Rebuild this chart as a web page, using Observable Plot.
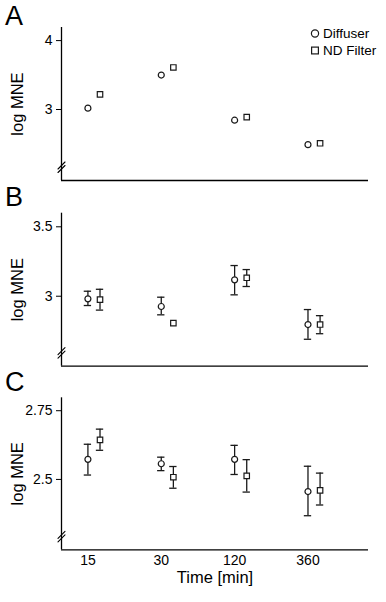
<!DOCTYPE html>
<html><head><meta charset="utf-8">
<script src="https://cdn.jsdelivr.net/npm/d3@7"></script>
<script src="https://cdn.jsdelivr.net/npm/@observablehq/plot@0.6"></script>
<style>
body{margin:0;background:#fff;}
#wrap{position:relative;width:386px;height:602px;overflow:hidden;font-family:"Liberation Sans",Arial,Helvetica,sans-serif;color:#000;}
.panel{position:absolute;left:0;}
.letter{position:absolute;font-size:27px;line-height:27px;}
#legend{position:absolute;left:310px;top:25px;font-size:13.5px;line-height:17px;}
#legend div{display:flex;align-items:center;white-space:nowrap;}
#legend svg{margin-right:3px;}
</style></head><body><div id="wrap"></div>
<script>
// ---- data ----
const times = ["15", "30", "120", "360"];
const series = ["Diffuser", "ND Filter"];

const aDiffuser = [3.02, 3.50, 2.845, 2.49];
const aND = [3.22, 3.61, 2.89, 2.51];

const bDiffuser = [2.981, 2.926, 3.118, 2.796];
const bDiffuserLo = [2.933, 2.866, 3.010, 2.690];
const bDiffuserHi = [3.036, 2.993, 3.221, 2.904];
const bND = [2.976, 2.806, 3.133, 2.796];
const bNDLo = [2.900, null, 3.070, 2.730];
const bNDHi = [3.050, null, 3.192, 2.860];

const cDiffuser = [2.573, 2.557, 2.573, 2.456];
const cDiffuserLo = [2.516, 2.532, 2.518, 2.368];
const cDiffuserHi = [2.628, 2.581, 2.624, 2.548];
const cND = [2.644, 2.508, 2.513, 2.460];
const cNDLo = [2.606, 2.468, 2.454, 2.407];
const cNDHi = [2.683, 2.547, 2.572, 2.523];

const yTicksA = [3, 4];
const yTicksB = [3, 3.5];
const yTicksC = [2.5, 2.75];

// ---- layout ----
const W = 386;
const FONT = '"Liberation Sans", Arial, Helvetica, sans-serif';
const INK = "#1a1a1a";
const xDomain = [-0.36, 3.825];
const ndOffset = 0.165;
const capHalf = 0.05;

function rows(vals, lo, hi, s) {
  return times.map((t, i) => ({
    time: t, series: s,
    x: i + (s === series[1] ? ndOffset : 0),
    v: vals[i],
    lo: lo ? lo[i] : null,
    hi: hi ? hi[i] : null
  }));
}

const breakShape = {
  draw(context) {
    context.moveTo(-3.5, 1.5); context.lineTo(3.5, -5.5);
    context.moveTo(-3.5, 5.0); context.lineTo(3.5, -2.0);
  }
};

function panel(cfg) {
  const data = [...rows(cfg.d, cfg.dLo, cfg.dHi, series[0]), ...rows(cfg.n, cfg.nLo, cfg.nHi, series[1])];
  const err = data.filter(d => d.lo != null && d.hi != null);
  const [y0, y1] = cfg.yDomain;
  const yBreak = y0 + (y1 - y0) * 0.085;
  const marks = [
    Plot.ruleX([xDomain[0]], {stroke: "#000", strokeWidth: 1.3}),
    Plot.ruleY([y0], {stroke: "#000", strokeWidth: 1.3}),
    Plot.vector([yBreak], {x: () => xDomain[0], y: d => d, length: 0, rotate: 0, anchor: "start", shape: breakShape, stroke: "#000", strokeWidth: 1.1}),
    Plot.axisY({ticks: cfg.yTicks, tickFormat: d => String(d), tickSize: 5, tickPadding: 4, fontSize: 14, label: null, stroke: "#000"}),
    Plot.axisY({ticks: [], label: "log MNE", labelAnchor: "center", labelOffset: 50, labelArrow: "none", fontSize: 16.5}),
    Plot.ruleX(err, {x: "x", y1: "lo", y2: "hi", stroke: INK, strokeWidth: 1.3}),
    Plot.ruleY(err, {y: "hi", x1: d => d.x - capHalf, x2: d => d.x + capHalf, stroke: INK, strokeWidth: 1.3}),
    Plot.ruleY(err, {y: "lo", x1: d => d.x - capHalf, x2: d => d.x + capHalf, stroke: INK, strokeWidth: 1.3}),
    Plot.dot(data, {x: "x", y: "v", symbol: "series", r: d => d.series === series[1] ? 4.3 : 4.1, fill: "white", stroke: INK, strokeWidth: 1.2})
  ];
  if (cfg.xAxis) {
    marks.push(Plot.axisX({ticks: [0, 1, 2, 3], tickFormat: i => times[i], tickSize: 0, tickPadding: 5, fontSize: 14, label: null}));
    marks.push(Plot.axisX({ticks: [], label: "Time [min]", labelAnchor: "center", labelOffset: 33, labelArrow: "none", fontSize: 16.5}));
  }
  return Plot.plot({
    width: W, height: cfg.height,
    marginLeft: 61, marginRight: 18, marginTop: cfg.mt, marginBottom: cfg.mb,
    style: {fontFamily: FONT, fontSize: "14px", color: "#000", background: "white", overflow: "visible"},
    x: {domain: xDomain, axis: null},
    y: {domain: cfg.yDomain, axis: null},
    symbol: {domain: series, range: ["circle", "square"]},
    marks
  });
}

const wrap = document.getElementById("wrap");
const cfgs = [
  {top: 0, height: 190, mt: 27, mb: 10, yDomain: [1.97, 4.19], yTicks: yTicksA, d: aDiffuser, n: aND, letter: "A", lt: 3},
  {top: 190, height: 185, mt: 22.7, mb: 9.3, yDomain: [2.496, 3.598], yTicks: yTicksB, d: bDiffuser, dLo: bDiffuserLo, dHi: bDiffuserHi, n: bND, nLo: bNDLo, nHi: bNDHi, letter: "B", lt: 184},
  {top: 375, height: 227, mt: 22.3, mb: 52.7, yDomain: [2.244, 2.797], yTicks: yTicksC, d: cDiffuser, dLo: cDiffuserLo, dHi: cDiffuserHi, n: cND, nLo: cNDLo, nHi: cNDHi, letter: "C", lt: 369, xAxis: true}
];
for (const c of cfgs) {
  const p = panel(c);
  p.classList.add("panel");
  p.style.top = c.top + "px";
  wrap.appendChild(p);
}
for (const c of cfgs) {
  const l = document.createElement("div");
  l.className = "letter";
  l.style.top = c.lt + "px";
  l.style.left = "5px";
  l.textContent = c.letter;
  wrap.appendChild(l);
}
// legend
const legend = document.createElement("div");
legend.id = "legend";
legend.innerHTML = series.map((s, i) => `<div><svg width="10" height="17" viewBox="-5 -8.5 10 17">${
  i === 0 ? `<circle r="3.6" fill="white" stroke="${INK}" stroke-width="1.2"/>`
          : `<rect x="-3.4" y="-3.4" width="6.8" height="6.8" fill="white" stroke="${INK}" stroke-width="1.2"/>`
}</svg><span>${s}</span></div>`).join("");
wrap.appendChild(legend);
</script>
</body></html>
